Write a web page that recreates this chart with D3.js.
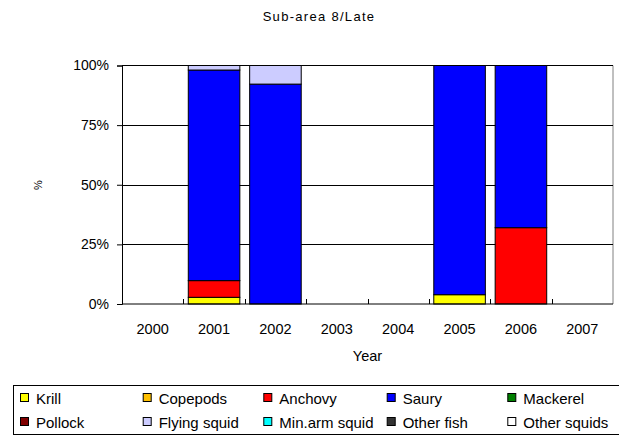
<!DOCTYPE html>
<html><head><meta charset="utf-8">
<script src="https://cdn.jsdelivr.net/npm/d3@7"></script>
<style>body{margin:0;background:#fff}svg{display:block;font-family:"Liberation Sans",Arial,sans-serif}</style>
</head><body><svg id="c" width="619" height="436"></svg>
<script>
const years = ["2000","2001","2002","2003","2004","2005","2006","2007"];
const species = ["Krill","Copepods","Anchovy","Saury","Mackerel","Pollock","Flying squid","Min.arm squid","Other fish","Other squids"];
const colors = ["#FFFF00","#FFC000","#FF0000","#0000FF","#008000","#800000","#CCCCFF","#00FFFF","#333333","#FFFFFF"];
const krill       = [0, 2.8, 0, 0, 0, 3.9, 0, 0];
const copepods    = [0, 0, 0, 0, 0, 0, 0, 0];
const anchovy     = [0, 7.0, 0, 0, 0, 0, 32.0, 0];
const saury       = [0, 88.3, 92.2, 0, 0, 96.1, 68.0, 0];
const mackerel    = [0, 0, 0, 0, 0, 0, 0, 0];
const pollock     = [0, 0, 0, 0, 0, 0, 0, 0];
const flyingSquid = [0, 1.9, 7.8, 0, 0, 0, 0, 0];
const minArmSquid = [0, 0, 0, 0, 0, 0, 0, 0];
const otherFish   = [0, 0, 0, 0, 0, 0, 0, 0];
const otherSquids = [0, 0, 0, 0, 0, 0, 0, 0];
const yTicks = [0, 25, 50, 75, 100];
const yTickLabels = ["0%","25%","50%","75%","100%"];

const seriesVals = [krill,copepods,anchovy,saury,mackerel,pollock,flyingSquid,minArmSquid,otherFish,otherSquids];
const table = years.map((y,i)=>{const o={year:y}; species.forEach((s,k)=>o[s]=seriesVals[k][i]); return o;});
const stacked = d3.stack().keys(species)(table);

const svg = d3.select("#c");
const L=122, R=613, T=65.5, B=304;
const x = d3.scaleBand().domain(years).range([L,R]).paddingInner(0.16).paddingOuter(0.08);
const xb = d3.scaleBand().domain(years).range([L,R]);
const y = d3.scaleLinear().domain([0,100]).range([B,T]);

// title
svg.append("text").attr("x",319).attr("y",21).attr("text-anchor","middle").attr("font-size",13).attr("letter-spacing",1.3).attr("fill","#000").text("Sub-area 8/Late");

// plot border right
svg.append("line").attr("x1",R).attr("x2",R).attr("y1",T).attr("y2",B).attr("stroke","#808080").attr("stroke-width",1);

// gridlines
svg.append("g").selectAll("line").data(yTicks.filter(t=>t>0&&t<100)).join("line")
  .attr("x1",L).attr("x2",R).attr("y1",d=>Math.round(y(d))+0.5).attr("y2",d=>Math.round(y(d))+0.5)
  .attr("stroke","#000").attr("stroke-width",1);
svg.append("line").attr("x1",L).attr("x2",R).attr("y1",T).attr("y2",T).attr("stroke","#000").attr("stroke-width",1);

// bars
svg.append("g").selectAll("g").data(stacked).join("g")
  .attr("fill",(d,i)=>colors[i])
  .selectAll("rect").data(d=>d.filter(p=>p[1]-p[0]>0)).join("rect")
  .attr("x",d=>x(d.data.year)).attr("width",x.bandwidth())
  .attr("y",d=>y(d[1])).attr("height",d=>y(d[0])-y(d[1]))
  .attr("stroke","#000").attr("stroke-width",1);

// y axis
const yAxis = d3.axisLeft(y).tickValues(yTicks).tickFormat((d,i)=>yTickLabels[i]).tickSize(5).tickPadding(8);
const gy = svg.append("g").attr("transform",`translate(${L},0)`).call(yAxis);
gy.select(".domain").attr("stroke","#000");
gy.selectAll("text").attr("font-size",14).attr("fill","#000").attr("font-family","Liberation Sans, Arial, sans-serif");

// x axis
const gx = svg.append("g").attr("transform",`translate(0,${B})`);
gx.append("line").attr("x1",L).attr("x2",R).attr("stroke","#000");
gx.selectAll("line.tk").data(years.slice(1)).join("line").attr("class","tk")
  .attr("x1",d=>Math.round(xb(d))+0.5).attr("x2",d=>Math.round(xb(d))+0.5).attr("y1",0).attr("y2",-5).attr("stroke","#000");
gx.selectAll("text").data(years).join("text")
  .attr("x",d=>xb(d)+xb.bandwidth()/2).attr("y",30).attr("text-anchor","middle").attr("font-size",14.5).attr("fill","#000").text(d=>d);

// axis titles
svg.append("text").attr("x",(L+R)/2).attr("y",361).attr("text-anchor","middle").attr("font-size",14.5).text("Year");
svg.append("text").attr("transform","translate(42,185) rotate(-90)").attr("text-anchor","middle").attr("font-size",11).text("%");

// legend
svg.append("rect").attr("x",13.5).attr("y",385.5).attr("width",610).attr("height",49).attr("fill","none").attr("stroke","#000");
const colX = [20,142.7,263.3,386.7,507.3];
const lg = svg.append("g").selectAll("g").data(species).join("g")
  .attr("transform",(d,i)=>`translate(${colX[i%5]},${i<5?398:422})`);
lg.append("rect").attr("x",0.5).attr("y",-4.5).attr("width",8).attr("height",8).attr("fill",(d,i)=>colors[i]).attr("stroke","#000");
lg.append("text").attr("x",16).attr("y",6).attr("font-size",15).text(d=>d);
</script></body></html>
